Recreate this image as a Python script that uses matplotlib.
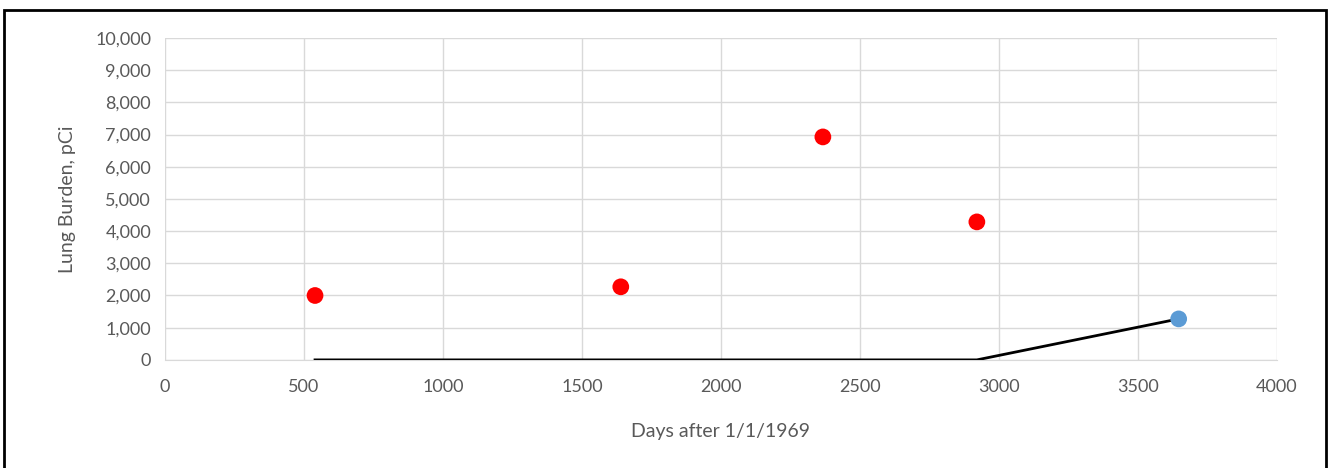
import matplotlib.pyplot as plt
from matplotlib.patches import Rectangle
from matplotlib.ticker import FuncFormatter

# measured lung burden (red) and latest measurement (blue)
days_red = [540, 1640, 2367, 2921]
burden_red = [2000, 2270, 6925, 4286]
days_blue = [3647]
burden_blue = [1273]
# black line
line_days = [540, 2921, 3647]
line_burden = [0, 0, 1273]

plt.rcParams['font.family'] = ['Lato', 'DejaVu Sans']
grey = '#595959'

fig = plt.figure(figsize=(13.3, 4.68), dpi=100)
ax = fig.add_axes([0.124, 0.231, 0.836, 0.688])

ax.plot(line_days, line_burden, color='black', lw=2, zorder=3)
ax.scatter(days_red, burden_red, s=145, color='#ff0000', zorder=4, edgecolors='none')
ax.scatter(days_blue, burden_blue, s=145, color='#5b9bd5', zorder=4, edgecolors='none')

ax.set_xlim(0, 4000)
ax.set_ylim(0, 10000)
ax.set_xticks(range(0, 4001, 500))
ax.set_yticks(range(0, 10001, 1000))
ax.yaxis.set_major_formatter(FuncFormatter(lambda v, p: f'{int(v):,}'))
ax.grid(True, color='#d9d9d9', lw=1)
ax.set_axisbelow(True)
for s in ['top', 'right', 'left']:
    ax.spines[s].set_visible(False)
ax.spines['bottom'].set_color('#d9d9d9')
ax.tick_params(length=0, labelsize=13, colors=grey)
ax.tick_params(axis='x', pad=14)
ax.tick_params(axis='y', pad=10)
ax.set_xlabel('Days after 1/1/1969', fontsize=14, color=grey, labelpad=20)
ax.set_ylabel('Lung Burden, pCi', fontsize=14, color=grey, labelpad=14)

fig.patches.append(Rectangle((0.003, -0.01), 0.994, 0.988, transform=fig.transFigure,
                             fill=False, edgecolor='black', lw=2))

fig.savefig('out.png', dpi=100)
